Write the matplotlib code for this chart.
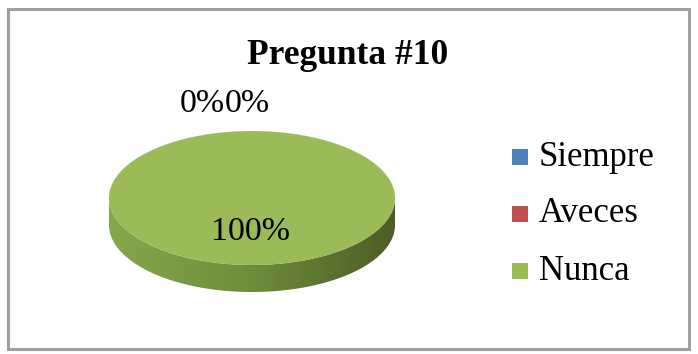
import numpy as np
import matplotlib
matplotlib.use("Agg")
import matplotlib.pyplot as plt
from matplotlib.patches import Polygon, Rectangle
from matplotlib.colors import LinearSegmentedColormap

## data
title = "Pregunta #10"
categories = ["Siempre", "Aveces", "Nunca"]
values = [0, 0, 100]
colors = ["#4f81bd", "#c0504d", "#9bbb59"]
side_dark = ["#2c4d75", "#772c2a", "#4b5e26"]
side_light = ["#5b8fcf", "#d05a56", "#86a74c"]

plt.rcParams['font.family'] = ['Liberation Serif', 'DejaVu Serif']

W, H = 698, 354
fig = plt.figure(figsize=(W / 100, H / 100), dpi=100)
ax = fig.add_axes([0, 0, 1, 1])
ax.set_xlim(0, W)
ax.set_ylim(H, 0)
ax.axis('off')

## chart border
ax.add_patch(Rectangle((7.5, 8.5), 681, 340, fill=False, edgecolor="#a0a0a0", lw=2.2))

ax.text(348, 55, title, ha='center', va='center', fontsize=25.5, fontweight='bold')

## 3d pie geometry (pixels)
cx, cy = 252, 198
a, b = 143, 67
depth = 27

def ell(t):
    return cx + a * np.cos(t), cy - b * np.sin(t)

total = float(sum(values))
start = np.pi / 2  # excel starts at 12 o'clock, goes clockwise
angles = []
cur = start
for v in values:
    sweep = 2 * np.pi * v / total
    angles.append((cur, cur - sweep))
    cur -= sweep

## side walls (front half only, angles between pi and 2pi)
for (t0, t1), lo, hi in zip(angles, side_light, side_dark):
    if t0 == t1:
        continue
    ts = np.linspace(t1, t0, 400) % (2 * np.pi)
    ts = np.sort(ts[(ts >= np.pi) & (ts <= 2 * np.pi)])
    if len(ts) < 2:
        continue
    xs, ys = ell(ts)
    pts = np.vstack([np.column_stack([xs, ys]),
                     np.column_stack([xs[::-1], ys[::-1] + depth])])
    poly = Polygon(pts, closed=True, facecolor='none', edgecolor='none')
    ax.add_patch(poly)
    cmap = LinearSegmentedColormap.from_list("side", [lo, "#6f8c3b", hi])
    grad = np.linspace(0, 1, 256).reshape(1, -1)
    im = ax.imshow(grad, cmap=cmap, aspect='auto',
                   extent=[cx - a, cx + a, cy + b + depth, cy], zorder=2)
    im.set_clip_path(poly)

## top faces
for (t0, t1), c in zip(angles, colors):
    if t0 == t1:
        continue
    ts = np.linspace(t0, t1, 400)
    xs, ys = ell(ts)
    if abs(t0 - t1) < 2 * np.pi - 1e-9:
        xs = np.append(np.append(cx, xs), cx)
        ys = np.append(np.append(cy, ys), cy)
    ax.add_patch(Polygon(np.column_stack([xs, ys]), closed=True,
                         facecolor=c, edgecolor='none', zorder=3))

## data labels
zero_count = 0
for (t0, t1), v in zip(angles, values):
    pct = f"{v / total * 100:.0f}%"
    if v == 0:
        ax.text(202 + zero_count * 45, 104, pct, ha='center', va='center',
                fontsize=24.5, zorder=4)
        zero_count += 1
    else:
        ax.text(250, 232, pct, ha='center', va='center', fontsize=24.5, zorder=4)

## legend
for i, (name, c) in enumerate(zip(categories, colors)):
    y = 157 + i * 57
    ax.add_patch(Rectangle((512, y - 8), 16, 16, facecolor=c, edgecolor='none'))
    ax.text(539, y, name, ha='left', va='center', fontsize=25)

fig.savefig("out.png", dpi=100)
